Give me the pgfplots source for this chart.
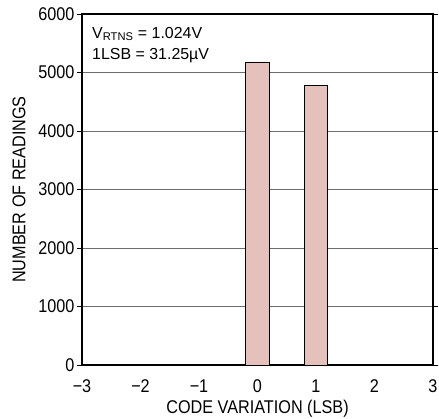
\documentclass[border=0pt]{standalone}
\usepackage{fontspec}
\setmainfont{Liberation Sans}[FakeStretch=0.88]
\newfontfamily\annfont{Liberation Sans}
\usepackage{pgfplots}
\pgfplotsset{compat=1.18}
\usetikzlibrary{calc}
\definecolor{barpink}{RGB}{228,193,186}
\definecolor{gridgray}{RGB}{110,110,110}

\begin{document}
\begin{tikzpicture}
    \begin{axis}[
        name=ax,
        scale only axis,
        width=351bp,
        height=351bp,
        xmin=-3, xmax=3,
        ymin=0, ymax=6000,
        xtick={-3,-2,-1,0,1,2,3},
        xticklabels={−3,−2,−1,0,1,2,3},
        ytick={0,1000,2000,3000,4000,5000,6000},
        ymajorgrids,
        grid style={gridgray, line width=0.8pt},
        axis line style={line width=1.3pt},
        tick align=outside,
        major tick length=5bp,
        tick style={black, line width=0.8pt},
        xtick style={draw=none},
        /pgf/number format/assume math mode=true,
        scaled y ticks=false,
        yticklabel style={/pgf/number format/1000 sep={}, xshift=1bp},
        ticklabel style={font=\fontsize{18.5}{19}\selectfont},
        xticklabel style={yshift=-6bp},
        label style={font=\fontsize{18.5}{19}\selectfont},
        xlabel={CODE VARIATION (LSB)},
        ylabel={NUMBER OF READINGS},
        xlabel style={yshift=-1bp},
        ylabel style={yshift=6bp},
        ybar,
        bar width=0.4,
        ]
    \addplot[fill=barpink, draw=black, line width=0.9pt] coordinates {
        (0,5180)
        (1,4775)
    };
    \end{axis}
    \node[anchor=north west, align=left, font=\annfont\fontsize{16}{21}\selectfont, inner sep=0pt]
        at ($(ax.north west)+(10bp,-13bp)$)
        {V\textsubscript{RTNS} = 1.024V\\ 1LSB = 31.25µV};
    \pgfresetboundingbox
    \path ($(ax.south west)+(-82bp,-54bp)$) rectangle ($(ax.north east)+(6bp,14bp)$);
\end{tikzpicture}
\end{document}
